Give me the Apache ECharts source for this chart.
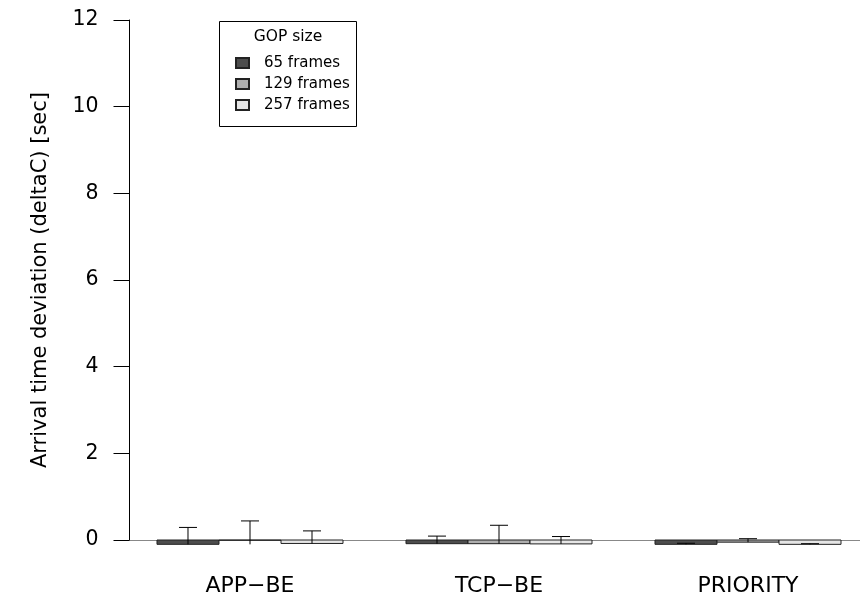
<!DOCTYPE html>
<html>
<head>
<meta charset="utf-8">
<script src="https://cdn.jsdelivr.net/npm/echarts@6/dist/echarts.min.js"></script>
<style>html,body{margin:0;padding:0;background:#fff}#c{width:860px;height:604px}</style>
</head>
<body>
<div id="c"></div>
<script>
const categories = ['APP\u2212BE', 'TCP\u2212BE', 'PRIORITY'];
const seriesNames = ['65 frames', '129 frames', '257 frames'];
const values65 = [-0.10, -0.085, -0.10];
const values129 = [-0.005, -0.085, -0.05];
const values257 = [-0.08, -0.09, -0.10];
const errLow65 = [-0.10, -0.085, -0.10];
const errLow129 = [-0.10, -0.085, -0.05];
const errLow257 = [-0.08, -0.09, -0.10];
const errHigh65 = [0.29, 0.09, -0.075];
const errHigh129 = [0.44, 0.34, 0.03];
const errHigh257 = [0.21, 0.08, -0.085];
const yTicks = [0, 2, 4, 6, 8, 10, 12];

const colors = ['#4D4D4D', '#AEAEAE', '#E6E6E6'];
const FONT = 'DejaVu Sans';
const values = [values65, values129, values257];
const lows = [errLow65, errLow129, errLow257];
const highs = [errHigh65, errHigh129, errHigh257];

// layout: each category band spans 1 x-unit; bars fill 3/4 of the band (R barplot, space = c(0,1))
const BAR_UNITS = 0.249;   // bar width in category units
const GRID_LEFT = 125.5;
const BAND_PX = 249;
const X_MIN = -0.5;
const X_MAX = X_MIN + (860 - GRID_LEFT) / BAND_PX;

const chart = echarts.init(document.getElementById('c'), null, {renderer: 'canvas'});

function barRender(k) {
  return function (params, api) {
    const cx = api.value(0) + (k - 1) * BAR_UNITS;
    const p0 = api.coord([cx - BAR_UNITS / 2, 0]);
    const p1 = api.coord([cx + BAR_UNITS / 2, api.value(1)]);
    return {
      type: 'rect',
      shape: {x: p0[0], y: Math.min(p0[1], p1[1]), width: p1[0] - p0[0], height: Math.abs(p1[1] - p0[1])},
      style: {fill: colors[k], stroke: '#222', lineWidth: 1}
    };
  };
}

function errRender(k) {
  return function (params, api) {
    const cx = api.value(0) + (k - 1) * BAR_UNITS;
    const top = api.coord([cx, api.value(2)]);
    const bot = api.coord([cx, api.value(1)]);
    const x = top[0];
    const style = {stroke: '#000', lineWidth: 1, fill: null};
    return {
      type: 'group',
      children: [
        {type: 'line', shape: {x1: x, y1: bot[1], x2: x, y2: top[1]}, style: style},
        {type: 'line', shape: {x1: x - 9, y1: top[1], x2: x + 9, y2: top[1]}, style: style}
      ]
    };
  };
}

const series = [];
for (let k = 0; k < 3; k++) {
  series.push({
    name: seriesNames[k],
    type: 'custom',
    clip: false,
    z: 2,
    renderItem: barRender(k),
    itemStyle: {color: colors[k], borderColor: '#222', borderWidth: 1},
    data: categories.map((c, i) => [i, values[k][i]])
  });
}
for (let k = 0; k < 3; k++) {
  series.push({
    name: 'err' + k,
    type: 'custom',
    clip: false,
    z: 3,
    renderItem: errRender(k),
    data: categories.map((c, i) => [i, lows[k][i], highs[k][i]])
  });
}

chart.setOption({
  animation: false,
  backgroundColor: '#fff',
  textStyle: {fontFamily: FONT},
  grid: {left: GRID_LEFT, right: 0, top: 20, bottom: 64, containLabel: false},
  xAxis: {
    type: 'value',
    min: X_MIN,
    max: X_MAX,
    axisLine: {show: true, onZero: true, lineStyle: {color: '#888', width: 1}},
    axisTick: {show: false},
    axisLabel: {color: '#000', fontSize: 22, fontFamily: FONT, margin: 35,
      customValues: [0, 1, 2],
      formatter: v => categories[Math.round(v)] || ''},
    splitLine: {show: false}
  },
  yAxis: {
    type: 'value',
    min: 0,
    max: 12,
    interval: 2,
    offset: -4,
    name: 'Arrival time deviation (deltaC) [sec]',
    nameLocation: 'middle',
    nameRotate: 90,
    nameGap: 78,
    nameTextStyle: {color: '#000', fontSize: 21, fontFamily: FONT},
    axisLine: {show: true, onZero: false, lineStyle: {color: '#000', width: 1}},
    axisTick: {show: true, length: 16, lineStyle: {color: '#000', width: 1}},
    axisLabel: {color: '#000', fontSize: 20.5, fontFamily: FONT, margin: 31,
      formatter: v => yTicks.includes(v) ? String(v) : ''},
    splitLine: {show: false}
  },
  legend: {
    data: seriesNames,
    orient: 'vertical',
    left: 230,
    top: 50,
    itemWidth: 13,
    itemHeight: 10,
    itemGap: 5,
    icon: 'rect',
    selectedMode: false,
    textStyle: {color: '#000', fontSize: 15, fontFamily: FONT, lineHeight: 16, padding: [0, 0, 0, 10]}
  },
  graphic: [
    {type: 'rect', z: -1, shape: {x: 219.5, y: 21.5, width: 137, height: 105},
      style: {fill: '#fff', stroke: '#000', lineWidth: 1}},
    {type: 'text', x: 288, y: 37, style: {text: 'GOP size', fill: '#000', font: '15.5px "DejaVu Sans"',
      textAlign: 'center', textVerticalAlign: 'middle'}}
  ],
  series: series
});
</script>
</body>
</html>
